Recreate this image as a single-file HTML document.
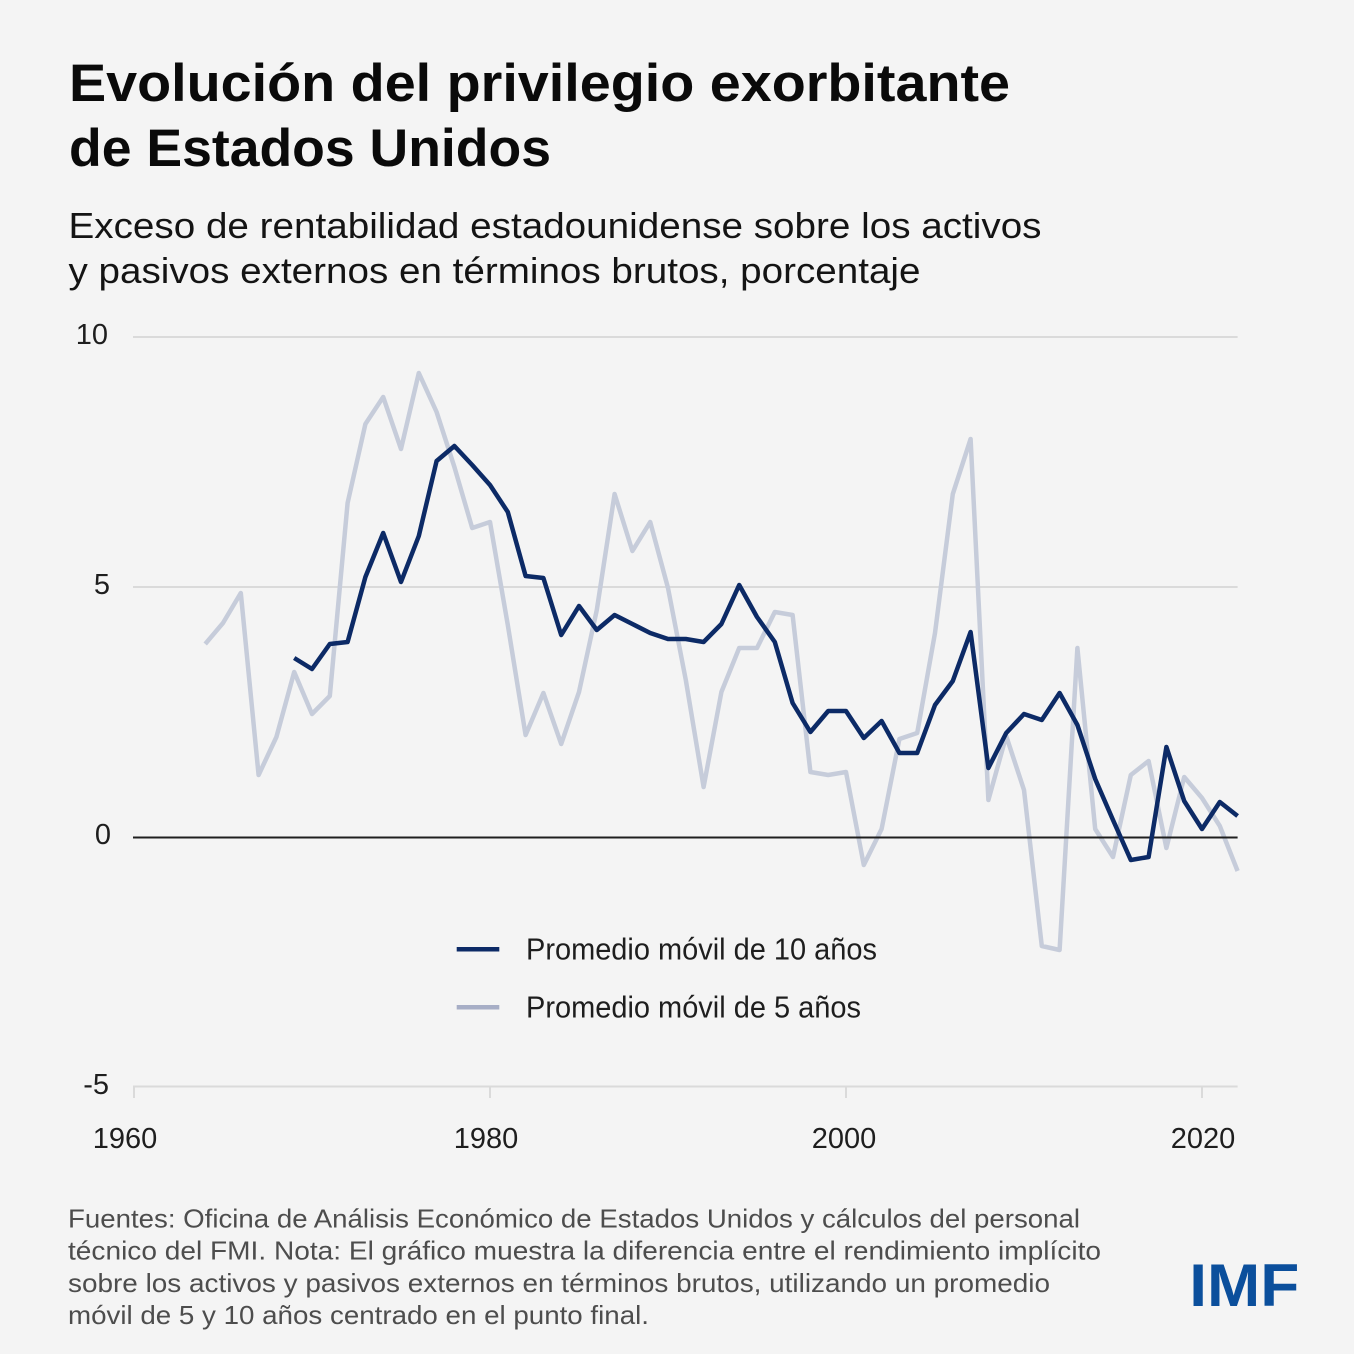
<!DOCTYPE html>
<html>
<head>
<meta charset="utf-8">
<style>
  html, body { margin: 0; padding: 0; background: #f4f4f4; }
  svg { display: block; }
  text { font-family: "Liberation Sans", "DejaVu Sans", sans-serif; }
</style>
</head>
<body>
<svg width="1354" height="1354" viewBox="0 0 1354 1354" xmlns="http://www.w3.org/2000/svg">
  <rect x="0" y="0" width="1354" height="1354" fill="#f4f4f4"/>

  <!-- Title -->
  <text x="69" y="101" font-size="53" font-weight="bold" fill="#0a0a0a" textLength="941" lengthAdjust="spacingAndGlyphs">Evolución del privilegio exorbitante</text>
  <text x="69" y="166" font-size="53" font-weight="bold" fill="#0a0a0a" textLength="482" lengthAdjust="spacingAndGlyphs">de Estados Unidos</text>

  <!-- Subtitle -->
  <text x="68.5" y="238" font-size="36" fill="#141414" textLength="973" lengthAdjust="spacingAndGlyphs">Exceso de rentabilidad estadounidense sobre los activos</text>
  <text x="68.5" y="283" font-size="36" fill="#141414" textLength="852" lengthAdjust="spacingAndGlyphs">y pasivos externos en términos brutos, porcentaje</text>

  <!-- Gridlines -->
  <g stroke="#dadada" stroke-width="2" fill="none">
    <line x1="133" y1="337" x2="1237.6" y2="337"/>
    <line x1="133" y1="587" x2="1237.6" y2="587"/>
    <line x1="133" y1="1086.5" x2="1237.6" y2="1086.5"/>
    <line x1="134" y1="1086" x2="134" y2="1098"/>
    <line x1="490" y1="1086" x2="490" y2="1098"/>
    <line x1="846" y1="1086" x2="846" y2="1098"/>
    <line x1="1202" y1="1086" x2="1202" y2="1098"/>
  </g>

  <!-- Y labels -->
  <g font-size="29" fill="#1e1e1e" text-anchor="end">
    <text x="108" y="344">10</text>
    <text x="110" y="594">5</text>
    <text x="111" y="844">0</text>
    <text x="109" y="1094">-5</text>
  </g>

  <!-- X labels -->
  <g font-size="29" fill="#1e1e1e" text-anchor="middle">
    <text x="125" y="1148">1960</text>
    <text x="486" y="1148">1980</text>
    <text x="844" y="1148">2000</text>
    <text x="1203" y="1148">2020</text>
  </g>

  <!-- 5-year series (gray) -->
  <polyline fill="none" stroke="#c6ccda" stroke-width="4.5" stroke-linejoin="round" stroke-linecap="butt"
    points="205.2,644 223,623 240.8,593 258.6,775 276.4,737 294.2,672 312,714 329.8,696 347.6,503 365.4,424 383.2,397 401,449 418.8,373 436.6,412 454.4,467 472.2,528 490,522 507.8,625 525.6,735 543.4,693 561.2,744 579,692 596.8,610 614.6,494 632.4,551 650.2,522 668,588 685.8,680 703.6,787 721.4,692 739.2,648 757,648 774.8,612 792.6,615 810.4,772 828.2,775 846,772 863.8,865 881.6,829 899.4,739 917.2,733 935,633 952.8,494 970.6,439 988.4,800 1006.2,736 1024,790 1041.8,946 1059.6,950 1077.4,648 1095.2,829 1113,857 1130.8,775 1148.6,761 1166.4,848 1184.2,777 1202,798 1219.8,826 1237.6,871"/>

  <!-- Zero line -->
  <line x1="133" y1="837.5" x2="1237.6" y2="837.5" stroke="#1f1f1f" stroke-width="2"/>

  <!-- 10-year series (navy) -->
  <polyline fill="none" stroke="#0c2a66" stroke-width="4.5" stroke-linejoin="round" stroke-linecap="butt"
    points="294.2,658 312,669 329.8,644 347.6,642 365.4,577 383.2,533 401,582 418.8,536 436.6,461 454.4,446 472.2,465 490,485 507.8,512 525.6,576 543.4,578 561.2,635 579,606 596.8,630 614.6,615 632.4,624 650.2,633 668,639 685.8,639 703.6,642 721.4,624 739.2,585 757,617 774.8,642 792.6,703 810.4,732 828.2,711 846,711 863.8,738 881.6,721 899.4,753 917.2,753 935,705 952.8,681 970.6,632 988.4,768 1006.2,733 1024,714 1041.8,720 1059.6,693 1077.4,725 1095.2,779 1113,820 1130.8,860 1148.6,857 1166.4,747 1184.2,801 1202,829 1219.8,802 1237.6,816"/>

  <!-- Legend -->
  <line x1="456.7" y1="949.3" x2="499.3" y2="949.3" stroke="#0c2a66" stroke-width="4.5"/>
  <line x1="456.7" y1="1007.3" x2="499.3" y2="1007.3" stroke="#a7aec6" stroke-width="4.5"/>
  <text x="526" y="959.3" font-size="31" fill="#1e1e1e" textLength="351" lengthAdjust="spacingAndGlyphs">Promedio móvil de 10 años</text>
  <text x="526" y="1017.3" font-size="31" fill="#1e1e1e" textLength="335" lengthAdjust="spacingAndGlyphs">Promedio móvil de 5 años</text>

  <!-- Footer -->
  <g font-size="26" fill="#4d4d4d">
    <text x="68" y="1227.5" textLength="1012" lengthAdjust="spacingAndGlyphs">Fuentes: Oficina de Análisis Económico de Estados Unidos y cálculos del personal</text>
    <text x="68" y="1259.5" textLength="1033" lengthAdjust="spacingAndGlyphs">técnico del FMI. Nota: El gráfico muestra la diferencia entre el rendimiento implícito</text>
    <text x="68" y="1292" textLength="982" lengthAdjust="spacingAndGlyphs">sobre los activos y pasivos externos en términos brutos, utilizando un promedio</text>
    <text x="68" y="1324" textLength="581" lengthAdjust="spacingAndGlyphs">móvil de 5 y 10 años centrado en el punto final.</text>
  </g>

  <!-- IMF logo -->
  <text x="1189.3" y="1306" font-size="60.5" font-weight="bold" fill="#0b4f9c" textLength="110" lengthAdjust="spacingAndGlyphs">IMF</text>
</svg>
</body>
</html>
